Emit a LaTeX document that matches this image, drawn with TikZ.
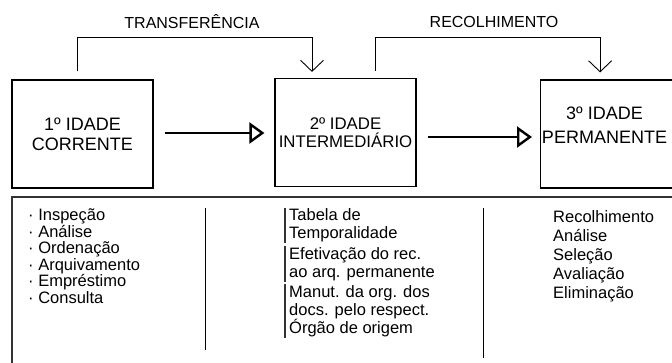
\documentclass[tikz,border=0pt]{standalone}
\usepackage{fontspec}
\setmainfont{Liberation Sans}
\usetikzlibrary{arrows.meta}
\usetikzlibrary{calc}

\begin{document}
\begin{tikzpicture}[x=1pt,y=-1pt,
  caixa/.style={draw,line width=1.2pt,minimum width=141pt,minimum height=108pt,inner sep=0pt,align=center},
  fluxo/.style={line width=2.6pt,-{Triangle[open,length=15pt,width=21pt,line width=2.4pt]}},
  desvio/.style={line width=0.9pt,-{Straight Barb[length=11pt,width=23pt,line width=0.9pt]}},
  rotulo/.style={font=\fontsize{16}{18}\selectfont},
  itens/.style={anchor=north west,inner sep=0pt,align=left},
  grupo/.style={anchor=north west,inner xsep=4pt,inner ysep=1pt,align=left,font=\fontsize{16.5}{18}\selectfont}]
\useasboundingbox (0,0) rectangle (672,362);
\clip (0,0) rectangle (672,362);

\node[caixa,font=\fontsize{18}{20}\selectfont] (corrente) at (82.5,134) {1º IDADE\\CORRENTE};
\node[caixa,font=\fontsize{16.8}{18}\selectfont] (intermediario) at (345.5,132.5) {2º IDADE\\INTERMEDIÁRIO};
\node[caixa,anchor=west] (permanente) at (540,134) {};
\node[align=center,inner sep=0pt,font=\fontsize{18}{24}\selectfont] (permanentetxt) at (604.5,125) {3º IDADE\\PERMANENTE};

\draw[fluxo] ([xshift=11pt,yshift=1pt]corrente.east) -- ([xshift=-10pt,yshift=1pt]corrente.east -| intermediario.west);
\draw[fluxo] ([xshift=11pt,yshift=-4.5pt]intermediario.east) -- ([xshift=-8pt,yshift=-4.5pt]intermediario.east -| permanente.west);

\coordinate (teto) at (0,37);
\coordinate (saida1) at ([xshift=-5.5pt,yshift=8pt]corrente.north);
\coordinate (chegada1) at ([xshift=-33.5pt,yshift=6pt]intermediario.north);
\coordinate (saida2) at ([xshift=29.5pt,yshift=7pt]intermediario.north);
\coordinate (chegada2) at ([xshift=-11pt,yshift=7pt]permanente.north);
\draw[desvio] (saida1) |- (teto -| chegada1) -- (chegada1);
\draw[desvio] (saida2) |- (teto -| chegada2) -- (chegada2);
\node[rotulo] (transferencia) at (192,22) {TRANSFERÊNCIA};
\node[rotulo] (recolhimento) at (494,22) {RECOLHIMENTO};

\draw[line width=1.1pt,black!80] (12,197) rectangle (700,400);
\draw[line width=0.9pt] (205,208) -- (205,350);
\draw[line width=0.9pt] (483,208) -- (483,358);

\node[itens,font=\fontsize{16.5}{16.6}\selectfont] (tarefas) at (28,208.5) {· Inspeção\\· Análise\\· Ordenação\\· Arquivamento\\· Empréstimo\\· Consulta};

\node[grupo] (tabela) at (285,207.5) {Tabela de\\Temporalidade};
\node[grupo] (efetivacao) at (285,246.3) {Efetivação do rec.\\ao arq. permanente};
\node[grupo] (manutencao) at (285,284.3) {Manut. da org. dos\\docs. pelo respect.\\Órgão de origem};
\foreach \g in {tabela,efetivacao,manutencao}
  \draw[line width=1.2pt,black!80] (\g.north west) -- (\g.south west);

\node[itens,font=\fontsize{16.5}{19}\selectfont] (etapas) at (553,210.4) {Recolhimento\\Análise\\Seleção\\Avaliação\\Eliminação};
\end{tikzpicture}
\end{document}
